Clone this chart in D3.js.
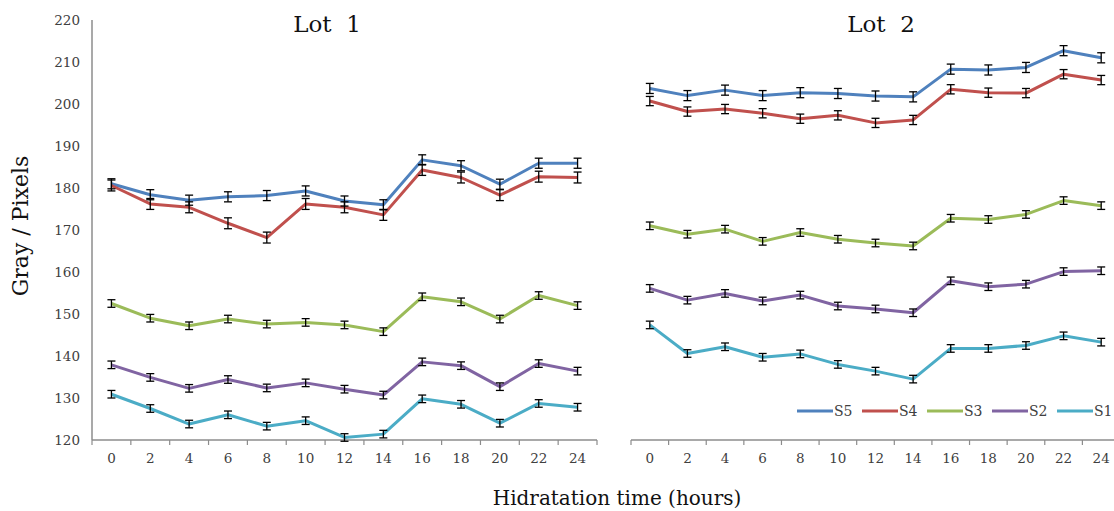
<!DOCTYPE html>
<html>
<head>
<meta charset="utf-8">
<script src="https://cdn.jsdelivr.net/npm/d3@7"></script>
<style>
  body { margin: 0; background: #fff; }
  text { font-family: "DejaVu Serif", serif; }
</style>
</head>
<body>
<div id="chart"></div>
<script>
// hours on the x axis
var hours = [0, 2, 4, 6, 8, 10, 12, 14, 16, 18, 20, 22, 24];
var seriesNames = ["S5", "S4", "S3", "S2", "S1"];
var seriesColors = ["#4f81bd", "#c0504d", "#9bbb59", "#8064a2", "#4bacc6"];
var yTicks = [120, 130, 140, 150, 160, 170, 180, 190, 200, 210, 220];

// Lot 1
var lot1S5 = [181.0, 178.4, 177.1, 177.9, 178.2, 179.3, 176.9, 176.0, 186.7, 185.3, 180.9, 185.9, 185.9];
var lot1S4 = [180.6, 176.2, 175.4, 171.6, 168.2, 176.2, 175.4, 173.6, 184.3, 182.5, 178.3, 182.7, 182.5];
var lot1S3 = [152.5, 149.0, 147.2, 148.8, 147.6, 148.0, 147.4, 145.8, 154.1, 152.9, 148.8, 154.4, 152.0];
var lot1S2 = [137.9, 134.9, 132.3, 134.4, 132.4, 133.6, 132.1, 130.7, 138.6, 137.7, 132.7, 138.2, 136.4];
var lot1S1 = [130.9, 127.5, 123.8, 126.0, 123.3, 124.6, 120.6, 121.4, 129.8, 128.5, 124.0, 128.7, 127.8];

// Lot 2
var lot2S5 = [203.7, 202.0, 203.3, 202.0, 202.7, 202.5, 201.9, 201.7, 208.3, 208.1, 208.7, 212.7, 211.0];
var lot2S4 = [200.7, 198.2, 198.8, 197.8, 196.5, 197.3, 195.5, 196.2, 203.5, 202.7, 202.6, 207.1, 205.7];
var lot2S3 = [171.0, 169.0, 170.2, 167.3, 169.4, 167.8, 166.9, 166.2, 172.8, 172.5, 173.7, 177.0, 175.8];
var lot2S2 = [156.1, 153.3, 154.9, 153.1, 154.5, 151.9, 151.2, 150.3, 157.9, 156.5, 157.1, 160.1, 160.3];
var lot2S1 = [147.4, 140.6, 142.2, 139.7, 140.5, 138.0, 136.4, 134.5, 141.8, 141.8, 142.5, 144.8, 143.3];

// error bar half-widths (same for every point of a series)
var lot1Err = [1.2, 1.3, 0.9, 0.9, 0.9];
var lot2Err = [1.2, 1.1, 0.9, 0.9, 0.9];

var svgWidth = 1114;
var svgHeight = 511;

var svg = d3.select("#chart")
    .append("svg")
    .attr("width", svgWidth)
    .attr("height", svgHeight);

var yScale = d3.scaleLinear()
    .domain([120, 220])
    .range([440, 20]);

var axisColor = "#8c8c8c";
var labelColor = "#404040";

function drawPanel(lotValues, errs, x0, x1, title, titleX, showY) {
    var xScale = d3.scaleBand()
        .domain(hours)
        .range([x0, x1]);
    var half = xScale.bandwidth() / 2;

    var g = svg.append("g");

    // x axis line + ticks between categories
    g.append("line")
        .attr("x1", x0).attr("x2", x1)
        .attr("y1", yScale(120)).attr("y2", yScale(120))
        .attr("stroke", axisColor).attr("stroke-width", 1.5);

    g.selectAll(".xtick")
        .data(hours.concat(["end"]))
        .enter()
        .append("line")
        .attr("x1", d => d === "end" ? x1 : xScale(d))
        .attr("x2", d => d === "end" ? x1 : xScale(d))
        .attr("y1", yScale(120))
        .attr("y2", yScale(120) + 5)
        .attr("stroke", axisColor).attr("stroke-width", 1.2);

    g.selectAll(".xlab")
        .data(hours)
        .enter()
        .append("text")
        .attr("x", d => xScale(d) + half)
        .attr("y", 463)
        .attr("text-anchor", "middle")
        .attr("font-size", 13.5)
        .attr("fill", labelColor)
        .text(d => d);

    if (showY) {
        g.append("line")
            .attr("x1", x0).attr("x2", x0)
            .attr("y1", yScale(220)).attr("y2", yScale(120))
            .attr("stroke", axisColor).attr("stroke-width", 1.5);

        g.selectAll(".ylab")
            .data(yTicks)
            .enter()
            .append("text")
            .attr("x", 80)
            .attr("y", d => yScale(d) + 5)
            .attr("text-anchor", "end")
            .attr("font-size", 13.5)
            .attr("fill", labelColor)
            .text(d => d);
    }

    var line = d3.line()
        .x((d, i) => xScale(hours[i]) + half)
        .y(d => yScale(d));

    lotValues.forEach(function(vals, s) {
        g.append("path")
            .datum(vals)
            .attr("d", line)
            .attr("fill", "none")
            .attr("stroke", seriesColors[s])
            .attr("stroke-width", 3)
            .attr("stroke-linejoin", "round");
    });

    // error bars on top of the lines
    lotValues.forEach(function(vals, s) {
        var eb = g.append("g");
        vals.forEach(function(v, i) {
            var cx = xScale(hours[i]) + half;
            var top = yScale(v + errs[s]);
            var bot = yScale(v - errs[s]);
            eb.append("line").attr("x1", cx).attr("x2", cx).attr("y1", top).attr("y2", bot);
            eb.append("line").attr("x1", cx - 4).attr("x2", cx + 4).attr("y1", top).attr("y2", top);
            eb.append("line").attr("x1", cx - 4).attr("x2", cx + 4).attr("y1", bot).attr("y2", bot);
        });
        eb.selectAll("line").attr("stroke", "#000").attr("stroke-width", 1.3);
    });

    svg.append("text")
        .attr("x", titleX)
        .attr("y", 32)
        .attr("text-anchor", "middle")
        .attr("font-size", 23)
        .attr("fill", "#111")
        .text(title);
}

drawPanel([lot1S5, lot1S4, lot1S3, lot1S2, lot1S1], lot1Err, 92, 597, "Lot\u00a0\u00a01", 327, true);
drawPanel([lot2S5, lot2S4, lot2S3, lot2S2, lot2S1], lot2Err, 631, 1120, "Lot\u00a0\u00a02", 881, false);

// legend
var legend = svg.append("g");
seriesNames.forEach(function(name, i) {
    var lx = 797 + i * 65;
    legend.append("line")
        .attr("x1", lx).attr("x2", lx + 36)
        .attr("y1", 411).attr("y2", 411)
        .attr("stroke", seriesColors[i])
        .attr("stroke-width", 3);
    legend.append("text")
        .attr("x", lx + 37)
        .attr("y", 416)
        .attr("font-size", 14)
        .attr("fill", labelColor)
        .text(name);
});

// axis titles
svg.append("text")
    .attr("transform", "translate(28, 226) rotate(-90)")
    .attr("text-anchor", "middle")
    .attr("font-size", 22)
    .attr("fill", "#111")
    .text("Gray / Pixels");

svg.append("text")
    .attr("x", 617)
    .attr("y", 505)
    .attr("text-anchor", "middle")
    .attr("font-size", 20)
    .attr("fill", "#111")
    .text("Hidratation time (hours)");
</script>
</body>
</html>
